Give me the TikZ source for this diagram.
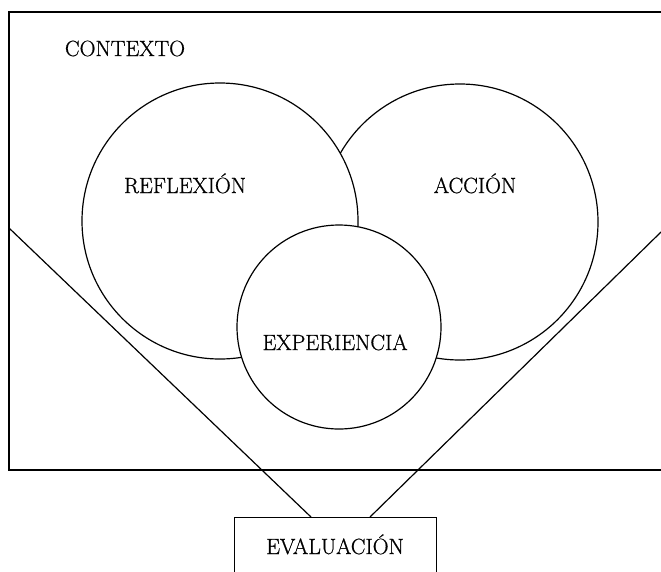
\documentclass[tikz,border=0pt]{standalone}
\usepackage{fontspec}
\newfontfamily\lmheavy[FakeBold=0.7]{Latin Modern Roman}
\usetikzlibrary{calc}
\begin{document}
\begin{tikzpicture}[x=1pt,y=-1pt,
  lbl/.style={anchor=base,inner sep=0pt,font=\lmheavy\fontsize{22}{24}\selectfont},
  ring/.style={circle,draw,line width=1.2pt,inner sep=0pt},
  edge/.style={line width=1.2pt}]
\useasboundingbox (0,0) rectangle (661,571);
% context frame
\draw[edge] (9,12) rectangle (690,470);
\node[lbl] (ctx) at (125,56) {CONTEXTO};
% circles
\node[ring,minimum size=276pt] (acc) at (460,222) {};
\node[ring,fill=white,minimum size=276pt] (ref) at (220,221) {};
\node[ring,fill=white,minimum size=204pt] (exp) at (339,327) {};
\node[lbl] (tref) at (185,193) {REFLEXIÓN};
\node[lbl] (tacc) at (475,193) {ACCIÓN};
\node[lbl] (texp) at (335,350) {EXPERIENCIA};
% evaluation box
\node[draw,line width=1.2pt,minimum width=202pt,minimum height=80pt,anchor=north west,inner sep=0pt] (eva) at (234,517) {};
\node[lbl] (teva) at (335,554) {EVALUACIÓN};
% V lines
\coordinate (lstart) at (9,228);
\coordinate (rstart) at (661,232);
\coordinate (lend) at ($(eva.north west)+(77,0)$);
\coordinate (rend) at ($(eva.north west)+(136,0)$);
\draw[edge] (lstart) -- (lend);
\draw[edge] (rstart) -- (rend);
\end{tikzpicture}
\end{document}
